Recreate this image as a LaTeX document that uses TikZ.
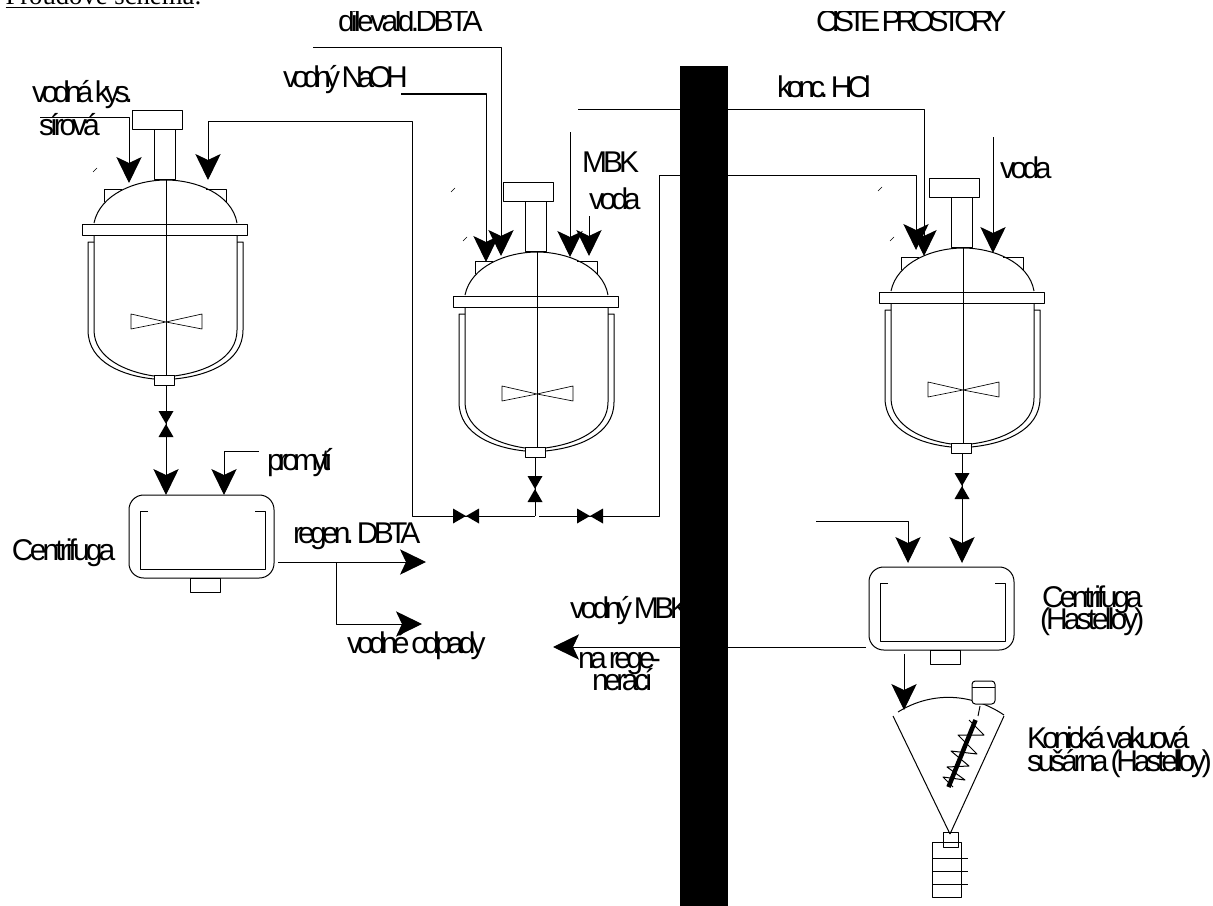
\documentclass[tikz,border=0pt]{standalone}
\usepackage{fontspec}
\usetikzlibrary{arrows.meta}
\newfontfamily\labelfont[WordSpace=.5]{Liberation Sans}
\newfontfamily\titlefont{Liberation Serif}
\begin{document}
\begin{tikzpicture}[line join=round,x=.75pt,y=-.75pt,line width=.75pt,>={Stealth[length=19.5pt,width=19pt,inset=4.5pt]}]
    \tikzset{lbl/.style={font=\labelfont\fontsize{22.5}{22.5}\selectfont\addfontfeature{LetterSpace=#1},anchor=base west,inner sep=0pt,outer sep=0pt},lbl/.default=-12}
    \tikzset{reactor/.pic={
        \draw (-34,-70) rectangle (16,-51);
        \draw (-12,-51) rectangle (9,-1);
        \draw (-62,22)--(-62,9)--(-44,9);
        \draw (60,22)--(60,9)--(40,9);
        \draw (-72,43) .. controls (-66,14) and (-30,0) .. (0,0) .. controls (30,0) and (66,14) .. (71,43);
        \draw (-84,44) rectangle (81,55);
        \draw (-72,55)--(-72,150) .. controls (-72,178) and (-40,192) .. (-12,196);
        \draw (71,55)--(71,150) .. controls (71,178) and (40,192) .. (8,196);
        \draw (-72,62)--(-78,62)--(-78,150) .. controls (-78,183) and (-42,196) .. (-12,199);
        \draw (71,62)--(77,62)--(77,150) .. controls (77,183) and (40,196) .. (8,199);
        \draw (0,0)--(0,195);
        \draw (-12,195) rectangle (8,205);
        \draw[line width=.5pt] (0,142)--(-35,134)--(-35,149)--(0,142)--(36,134)--(36,149)--cycle;
    }}
    \tikzset{valve/.pic={
        \fill (-7.5,-13)--(7.5,-13)--(0,0)--cycle;
        \fill (-7.5,13)--(7.5,13)--(0,0)--cycle;
    }}
    \tikzset{centrifuge/.pic={
        \draw[rounded corners=11pt] (0,0) rectangle (145,83);
        \draw (19,16)--(11,16)--(11,74)--(136,74)--(136,16)--(126,16);
        \draw (61,83) rectangle (91,97);
    }}
    \useasboundingbox (0,0) rectangle (1213,906);
    % ends of the lines
    \coordinate (acidin) at (40,117);
    \coordinate (acidtip) at (129,183);
    \coordinate (rettip) at (208,180);
    \coordinate (rettop) at (412,121);
    \coordinate (retbot) at (412,516);
    \coordinate (naohin) at (401,94);
    \coordinate (naohtip) at (486,262);
    \coordinate (dbtain) at (313,48);
    \coordinate (dbtatip) at (501,256);
    \coordinate (mbkin) at (570,132);
    \coordinate (mbktip) at (570,257);
    \coordinate (vodain) at (589,216);
    \coordinate (vodatip) at (589,256);
    \coordinate (hclin) at (578,109);
    \coordinate (hcltip) at (924,256);
    \coordinate (jointb) at (539,516);
    \coordinate (jointt) at (659,175);
    \coordinate (jointtip) at (916,250);
    \coordinate (waterin) at (993,137);
    \coordinate (watertip) at (993,253);
    \coordinate (outa) at (166,385);
    \coordinate (cfatip) at (166,495);
    \coordinate (washin) at (259,451);
    \coordinate (washtip) at (224,495);
    \coordinate (regena) at (278,562);
    \coordinate (regentip) at (426,562);
    \coordinate (branch) at (336,562);
    \coordinate (wastetip) at (422,624);
    \coordinate (outb) at (535,457);
    \coordinate (jointa) at (535,516);
    \coordinate (outc) at (962,454);
    \coordinate (cfctip) at (962,563);
    \coordinate (washc) at (816,521);
    \coordinate (washctip) at (908,563);
    \coordinate (motherin) at (866,647);
    \coordinate (mothertip) at (553,647);
    \coordinate (solidin) at (904,654);
    \coordinate (solidtip) at (904,710);
    % vessels
    \pic at (166,180) {reactor};
    \pic at (537,252) {reactor};
    \pic at (963,248) {reactor};
    \pic at (129,495) {centrifuge};
    \pic at (869,567) {centrifuge};
    % lines
    \draw[->] (acidin) -| (acidtip);
    \draw[->] (jointa) -- (retbot) -- (rettop) -| (rettip);
    \draw[->] (naohin) -| (naohtip);
    \draw[->] (dbtain) -| (dbtatip);
    \draw[->] (mbkin) -- (mbktip);
    \draw[->] (vodain) -- (vodatip);
    \draw[->] (hclin) -| (hcltip);
    \draw[->] (jointb) -| (jointt) -| (jointtip);
    \draw[->] (waterin) -- (watertip);
    \draw[->] (outa) -- (cfatip);
    \draw[->] (washin) -| (washtip);
    \draw[->] (regena) -- (regentip);
    \draw[->] (branch) |- (wastetip);
    \draw (outb) -- (jointa);
    \draw[->] (outc) -- (cfctip);
    \draw[->] (washc) -| (washctip);
    \draw[->] (motherin) -- (mothertip);
    \draw[->] (solidin) -- (solidtip);
    % valves
    \pic at (166,424) {valve};
    \pic at (535,489) {valve};
    \pic at (962,486) {valve};
    \pic[rotate=90] at (466,516) {valve};
    \pic[rotate=90] at (590,516) {valve};
    % small marks
    \foreach \x/\y in {93/172,451/192,463/241,878/191,890/241}
        \draw[line width=.4pt] (\x,\y)--(\x+4,\y-4);
    % dryer
    \draw (950,834)--(893,716);
    \draw (950,834)--(1004,716);
    \draw (898,712) .. controls (930,692) and (970,692) .. (1004,715);
    \draw[rounded corners=2.5pt,fill=white] (972,681) rectangle (995,704);
    \draw (972,687)--(995,687);
    \draw (980,706)--(978,716);
    \draw (969,720)--(984,735)--(958,735)--(977,754)--(951,751)--(969,766)--(947,767)--(965,780)--(943,777)--(953,787);
    \draw[line width=3.4pt] (975.5,720)--(948.5,787);
    \draw (943,832) rectangle (958,847);
    \draw (932,842) rectangle (961,897);
    \foreach \y in {858,871,884}
        \draw (932,\y)--(968,\y);
    % wall
    \fill (680,66) rectangle (728,906);
    % labels
    \node[font=\titlefont\fontsize{20}{20}\selectfont,anchor=base west,inner sep=0pt] (title) at (5,5) {\underline{Proudové schéma}:};
    \begin{scope}
        \clip (300,12) rectangle (1100,50);
        \node[lbl] (dbtalbl) at (338,32) {dilevald.DBTA};
        \node[lbl=-20] (roomlbl) at (816,32) {ČISTÉ PROSTORY};
    \end{scope}
    \node[lbl=-19] (naohlbl) at (283,88) {vodný NaOH};
    \node[lbl=-17] (acidlbl) at (32,103) {vodná kys.};
    \node[lbl=-14] (acidlblb) at (39,135) {sírová};
    \node[lbl=-13] (mbklbl) at (582,172) {MBK};
    \node[lbl=-15] (vodalbl) at (589,209) {voda};
    \node[lbl=-17] (hcllbl) at (777,98) {konc. HCl};
    \node[lbl=-15] (waterlbl) at (1000,178) {voda};
    \node[lbl=-19] (washlbl) at (267,470) {promytí};
    \node[lbl=-13] (cfalbl) at (12,560) {Centrifuga};
    \node[lbl=-16] (regenlbl) at (293,543) {regen. DBTA};
    \node[lbl=-16] (wastelbl) at (347,653) {vodné odpady};
    \node[lbl=-15] (motherlbl) at (570,618) {vodný MBK};
    \node[lbl=-15] (regelbl) at (578,668) {na rege-};
    \node[lbl=-15] (regelblb) at (592,690) {nerací};
    \node[lbl=-14] (cfclbl) at (1042,607) {Centrifuga};
    \node[lbl=-13] (cfclblb) at (1040,629) {(Hastelloy)};
    \node[lbl=-16] (dryerlbl) at (1027,748) {Konická vakuová};
    \node[lbl=-14] (dryerlblb) at (1027,771) {sušárna (Hastelloy)};
\end{tikzpicture}
\end{document}
